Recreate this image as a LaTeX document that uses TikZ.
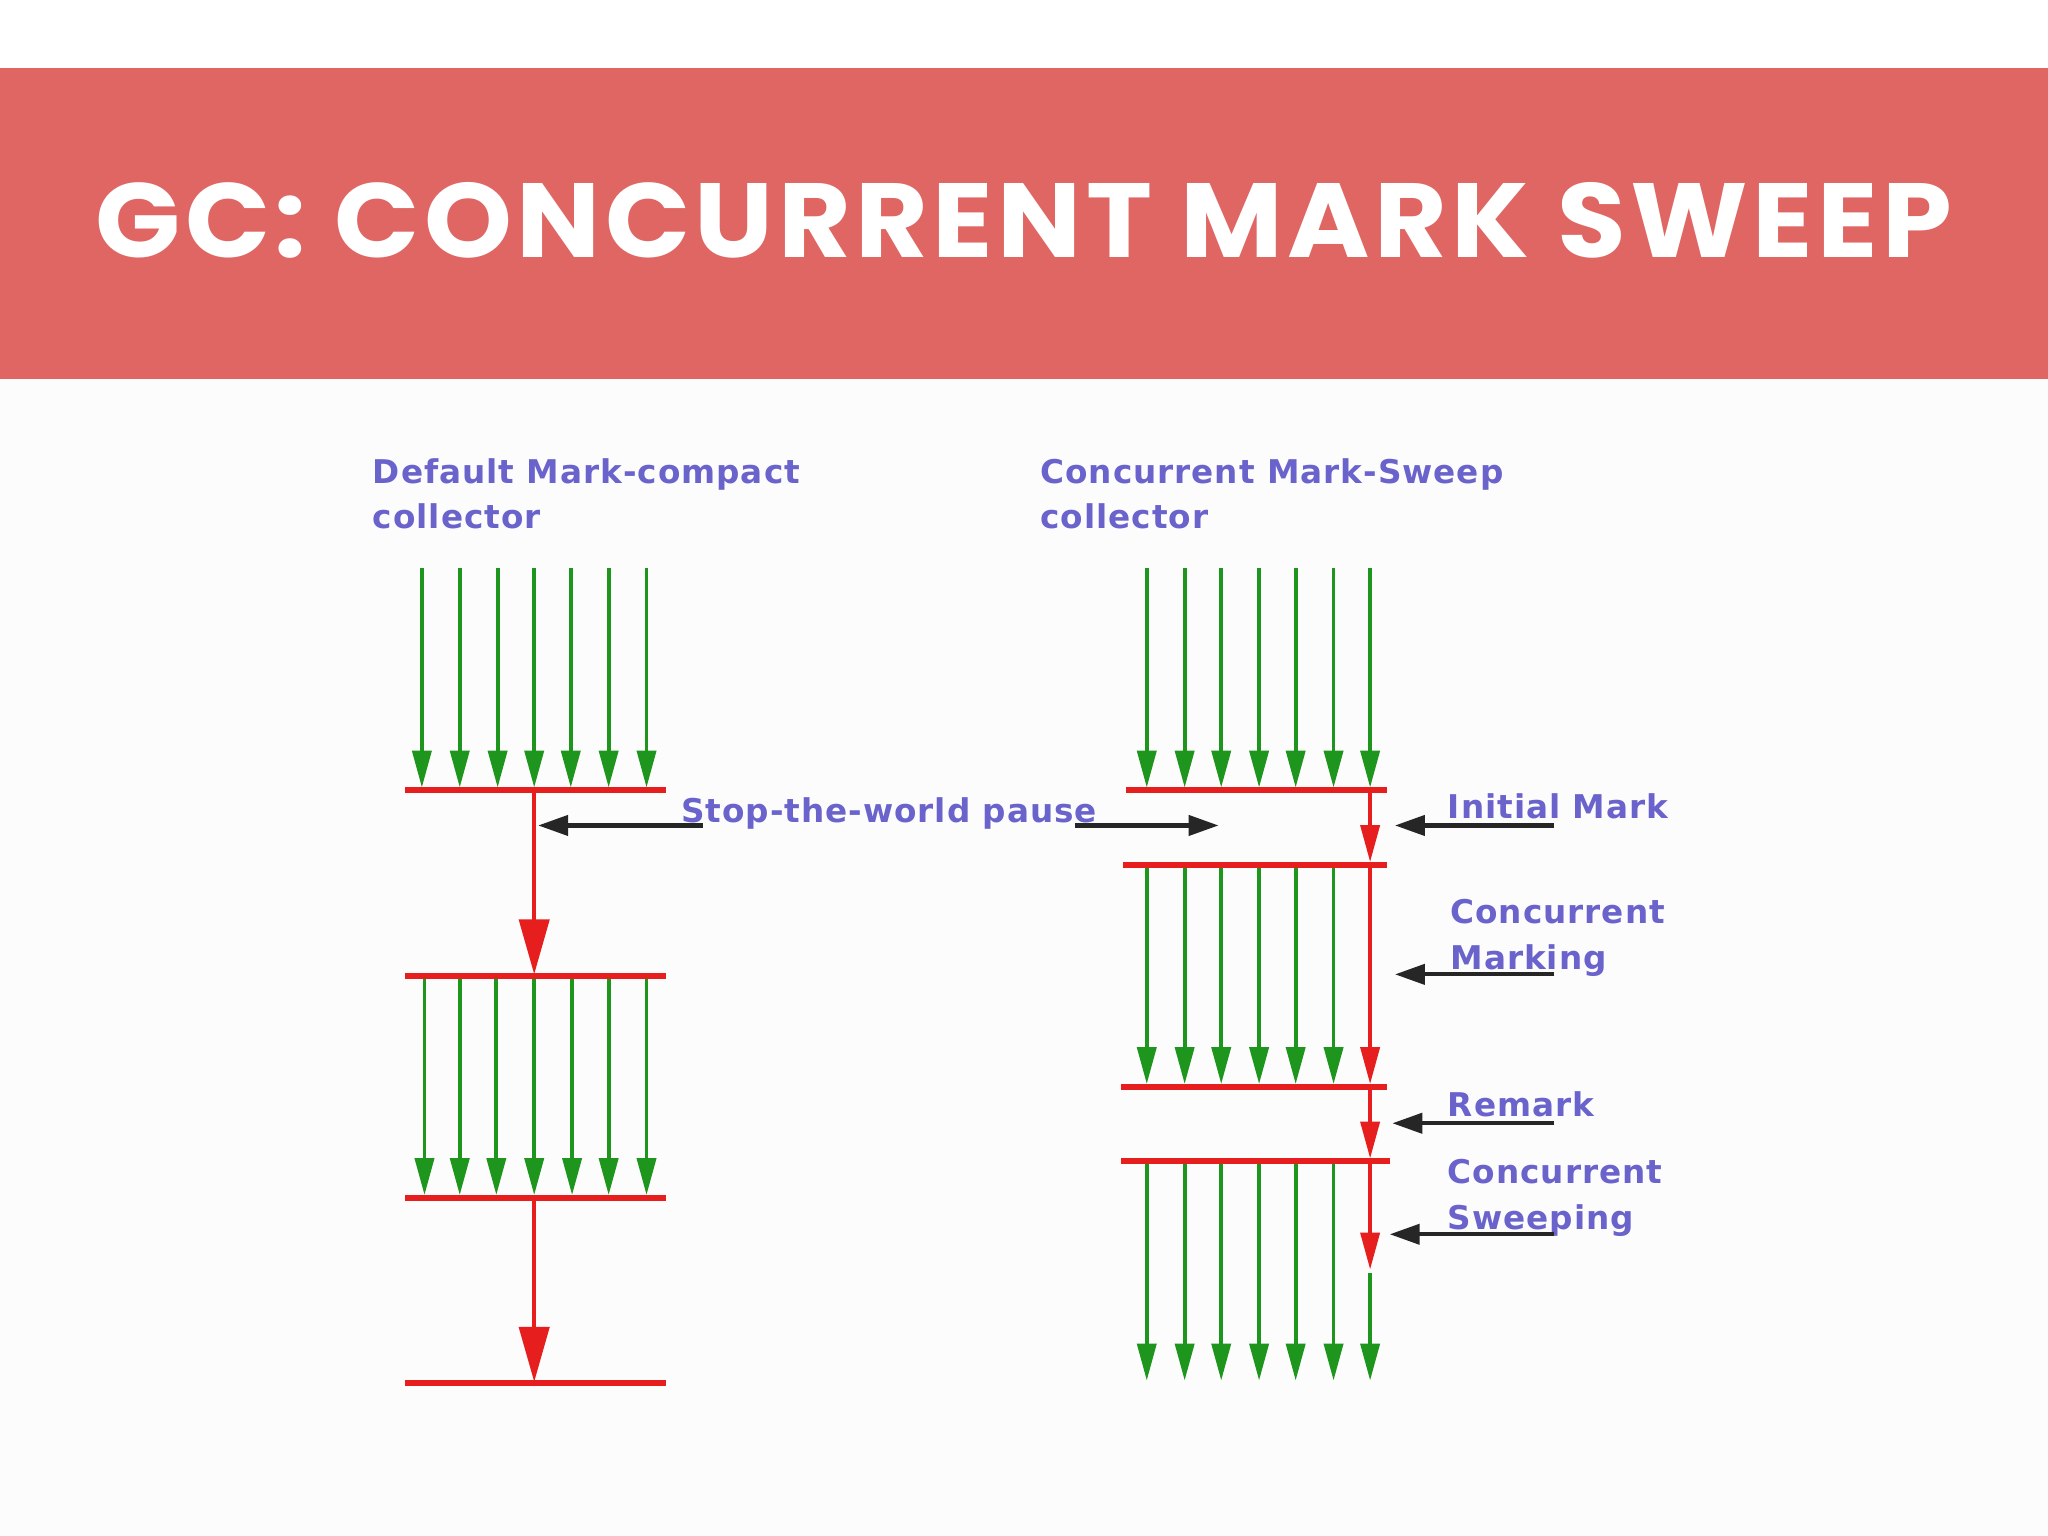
\documentclass[tikz,border=0pt]{standalone}
\usepackage{fontspec}
\setmainfont{DejaVu Sans}
\newfontfamily\lblfont[LetterSpace=3]{DejaVu Sans}
\newfontfamily\titlefont[LetterSpace=4]{Poppins}
\usetikzlibrary{arrows.meta}
\definecolor{banner}{RGB}{224,102,100}
\definecolor{lbl}{RGB}{106,99,204}
\definecolor{gr}{RGB}{30,150,30}
\definecolor{rd}{RGB}{230,30,30}
\tikzset{
  garrow/.style={gr,line width=1.1pt,-{Triangle[length=0.37cm,width=0.19cm]}},
  rsmall/.style={rd,line width=1.1pt,-{Triangle[length=0.37cm,width=0.19cm]}},
  rbig/.style={rd,line width=1.2pt,-{Triangle[length=0.55cm,width=0.3cm]}},
  rbar/.style={rd,line width=1.7pt},
  barrow/.style={black!85,line width=1.2pt,-{Triangle[length=0.3cm,width=0.2cm]}},
  lab/.style={lbl,font=\lblfont\fontsize{9.3pt}{11pt}\selectfont\bfseries,anchor=base west,inner sep=0pt}
}
\begin{document}
\begin{tikzpicture}[x=0.01306cm,y=-0.01306cm]
\useasboundingbox (0,0) rectangle (1568,1176);
\fill[white] (0,0) rectangle (1568,1176);
\fill[black!1] (0,290) rectangle (1568,1176);
\fill[banner] (0,52) rectangle (1568,290);
\node[white,font=\titlefont\fontsize{30pt}{34pt}\selectfont\bfseries,anchor=base,inner sep=0pt] (title) at (784,197) {\scalebox{1.06}[1]{GC: CONCURRENT MARK SWEEP}};
% headers
\node[lab] (h1a) at (285,370) {Default Mark-compact};
\node[lab] (h1b) at (285,405) {collector};
\node[lab] (h2a) at (796,370) {Concurrent Mark-Sweep};
\node[lab] (h2b) at (796,405) {collector};
% left column
\foreach \x in {323,352,381,409,437,466,495}{
  \coordinate (a) at (\x,435); \coordinate (b) at (\x,603);
  \draw[garrow] (a) -- (b);}
\foreach \x in {325,352,380,409,438,466,495}{
  \coordinate (a) at (\x,749); \coordinate (b) at (\x,915);
  \draw[garrow] (a) -- (b);}
\coordinate (L1a) at (310,605); \coordinate (L1b) at (510,605);
\coordinate (L2a) at (310,747); \coordinate (L2b) at (510,747);
\coordinate (L3a) at (310,917); \coordinate (L3b) at (510,917);
\coordinate (L4a) at (310,1059); \coordinate (L4b) at (510,1059);
\draw[rbar] (L1a) -- (L1b); \draw[rbar] (L2a) -- (L2b);
\draw[rbar] (L3a) -- (L3b); \draw[rbar] (L4a) -- (L4b);
\coordinate (p1) at (409,605); \coordinate (p2) at (409,746);
\coordinate (p3) at (409,917); \coordinate (p4) at (409,1058);
\draw[rbig] (p1) -- (p2);
\draw[rbig] (p3) -- (p4);
% stop-the-world
\node[lab] (stw) at (521,630) {Stop-the-world pause};
\coordinate (s1) at (538,632); \coordinate (s2) at (412,632);
\coordinate (s3) at (823,632); \coordinate (s4) at (933,632);
\draw[barrow] (s1) -- (s2);
\draw[barrow] (s3) -- (s4);
% right column
\foreach \x in {878,907,935,964,992,1021,1049}{
  \coordinate (a) at (\x,435); \coordinate (b) at (\x,603);
  \draw[garrow] (a) -- (b);}
\foreach \x in {878,907,935,964,992,1021}{
  \coordinate (a) at (\x,664); \coordinate (b) at (\x,830);
  \draw[garrow] (a) -- (b);
  \coordinate (c) at (\x,891); \coordinate (d) at (\x,1057);
  \draw[garrow] (c) -- (d);}
\coordinate (R1a) at (862,605); \coordinate (R1b) at (1062,605);
\coordinate (R2a) at (860,662); \coordinate (R2b) at (1062,662);
\coordinate (R3a) at (858,832); \coordinate (R3b) at (1062,832);
\coordinate (R4a) at (858,889); \coordinate (R4b) at (1064,889);
\draw[rbar] (R1a) -- (R1b); \draw[rbar] (R2a) -- (R2b);
\draw[rbar] (R3a) -- (R3b); \draw[rbar] (R4a) -- (R4b);
\coordinate (q1) at (1049,605); \coordinate (q2) at (1049,660);
\coordinate (q3) at (1049,662); \coordinate (q4) at (1049,830);
\coordinate (q5) at (1049,832); \coordinate (q6) at (1049,887);
\coordinate (q7) at (1049,889); \coordinate (q8) at (1049,972);
\coordinate (q9) at (1049,975); \coordinate (q10) at (1049,1057);
\draw[rsmall] (q1) -- (q2);
\draw[rsmall] (q3) -- (q4);
\draw[rsmall] (q5) -- (q6);
\draw[rsmall] (q7) -- (q8);
\draw[garrow] (q9) -- (q10);
% labels right
\node[lab] (im) at (1108,627) {Initial Mark};
\node[lab] (cm1) at (1110,707) {Concurrent};
\node[lab] (cm2) at (1110,742) {Marking};
\node[lab] (rm) at (1108,855) {Remark};
\node[lab] (cs1) at (1108,906) {Concurrent};
\node[lab] (cs2) at (1108,941) {Sweeping};
\coordinate (k1) at (1190,632); \coordinate (k1e) at (1068,632);
\coordinate (k2) at (1190,746); \coordinate (k2e) at (1068,746);
\coordinate (k3) at (1190,860); \coordinate (k3e) at (1066,860);
\coordinate (k4) at (1190,945); \coordinate (k4e) at (1064,945);
\draw[barrow] (k1) -- (k1e);
\draw[barrow] (k2) -- (k2e);
\draw[barrow] (k3) -- (k3e);
\draw[barrow] (k4) -- (k4e);
\end{tikzpicture}
\end{document}
